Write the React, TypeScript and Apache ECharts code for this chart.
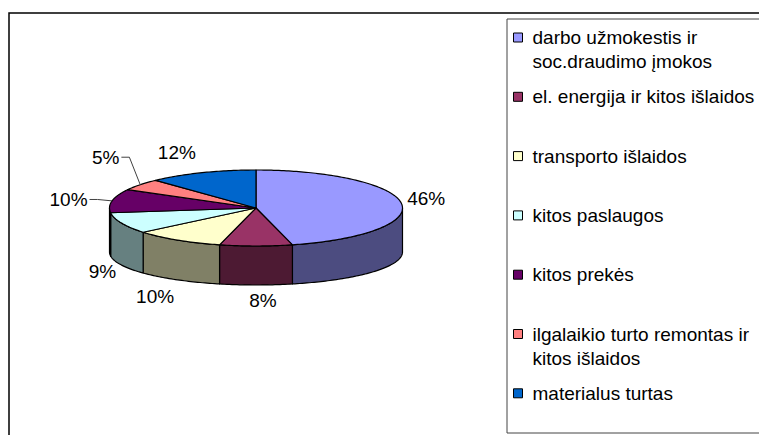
import React, { useEffect, useRef } from "react";
import * as echarts from "echarts";

// ---- data ----
const categories = [
  "darbo užmokestis ir soc.draudimo įmokos",
  "el. energija ir kitos išlaidos",
  "transporto išlaidos",
  "kitos paslaugos",
  "kitos prekės",
  "ilgalaikio turto remontas ir kitos išlaidos",
  "materialus turtas",
];
const legendLabels = [
  "darbo užmokestis ir\nsoc.draudimo įmokos",
  "el. energija ir kitos išlaidos\n ",
  "transporto išlaidos\n ",
  "kitos paslaugos\n ",
  "kitos prekės\n ",
  "ilgalaikio turto remontas ir\nkitos išlaidos",
  "materialus turtas\n ",
];
const shares = [46, 8, 10, 9, 10, 5, 12];

// ---- styles ----
const topColors = ["#9999FF", "#993366", "#FFFFCC", "#CCFFFF", "#660066", "#FF8080", "#0066CC"];
const sideColors = ["#4C4C80", "#4D1A33", "#808066", "#668080", "#330033", "#804040", "#003366"];
// extra label nudges (layout), and whether a leader line is drawn
const labelShift = [[0, -2.5], [7, 0], [-9, 4], [-1, 0], [-19, 1.5], [-19, -18], [-16, -6]];
const labelLeader = [false, false, false, false, true, true, false];

const FONT = "'Liberation Sans', Arial, sans-serif";
const CX = 256;
const RX = 146.5;
const CY_TOP = 208;
const RY_TOP = 38;
const CY_BOT = 252;
const RY_BOT = 33;

const rad = (d: number) => (d * Math.PI) / 180;
const topPt = (a: number) => [CX + RX * Math.sin(rad(a)), CY_TOP - RY_TOP * Math.cos(rad(a))];
const botPt = (a: number) => [CX + RX * Math.sin(rad(a)), CY_BOT - RY_BOT * Math.cos(rad(a))];

const total = shares.reduce((s, v) => s + v, 0);
const ranges: number[][] = [];
{
  let acc = 0;
  shares.forEach((v) => {
    ranges.push([acc / total, (acc + v) / total]);
    acc += v;
  });
}

function arc(a0: number, a1: number, fn: (a: number) => number[]) {
  const pts: number[][] = [];
  const n = Math.max(2, Math.ceil(Math.abs(a1 - a0)));
  for (let k = 0; k <= n; k++) pts.push(fn(a0 + ((a1 - a0) * k) / n));
  return pts;
}

export default function App() {
  const ref = useRef<HTMLDivElement>(null);
  useEffect(() => {
    if (!ref.current) return;
    const chart = echarts.init(ref.current, null, { renderer: "svg" });

    const wallSeries: any = {
      type: "custom",
      name: "walls",
      coordinateSystem: "none",
      silent: true,
      z: 1,
      data: ranges,
      renderItem: (params: any, api: any) => {
        const i = params.dataIndex;
        const a0 = Math.max(api.value(0) * 360, 90);
        const a1 = Math.min(api.value(1) * 360, 270);
        if (a1 <= a0) return { type: "group", children: [] };
        const pts = arc(a0, a1, topPt).concat(arc(a1, a0, botPt));
        return {
          type: "polygon",
          shape: { points: pts },
          style: { fill: sideColors[i], stroke: "#000", lineWidth: 1.2, lineJoin: "round" },
        };
      },
    };

    const topSeries: any = {
      type: "custom",
      name: "tops",
      coordinateSystem: "none",
      silent: true,
      z: 2,
      data: ranges,
      renderItem: (params: any, api: any) => {
        const i = params.dataIndex;
        const s0 = api.value(0);
        const s1 = api.value(1);
        const a0 = s0 * 360;
        const a1 = s1 * 360;
        const pts = [[CX, CY_TOP]].concat(arc(a0, a1, topPt));
        const mid = (a0 + a1) / 2;
        const sx = Math.sin(rad(mid));
        const cy = -Math.cos(rad(mid));
        const front = Math.cos(rad(mid)) < 0;
        const base = front ? botPt(mid) : topPt(mid);
        const txt = Math.round((s1 - s0) * 100) + "%";
        const w = (txt.length - 1) * 10.57 + 16.9;
        const lx = base[0] + sx * (6 + w / 2) + labelShift[i][0];
        const ly = base[1] + cy * (6 + 9.5) + labelShift[i][1];
        const children: any[] = [
          {
            type: "polygon",
            shape: { points: pts },
            style: { fill: topColors[i], stroke: "#000", lineWidth: 1.2, lineJoin: "round" },
          },
          {
            type: "text",
            x: lx,
            y: ly,
            style: {
              text: txt,
              fill: "#000",
              font: `19px ${FONT}`,
              align: "center",
              verticalAlign: "middle",
            },
          },
        ];
        if (labelLeader[i]) {
          const ex = lx + w / 2 + 2;
          children.push({
            type: "polyline",
            shape: { points: [[ex, ly], [ex + 8, ly], base] },
            style: { stroke: "#404040", lineWidth: 1, fill: null },
          });
        }
        return { type: "group", children };
      },
    };

    const legendProvider: any = {
      type: "pie",
      name: "legend",
      center: [-200, -200],
      radius: [0, 1],
      silent: true,
      label: { show: false },
      labelLine: { show: false },
      data: categories.map((n, i) => ({ name: n, value: shares[i], itemStyle: { color: topColors[i] } })),
    };

    chart.setOption({
      animation: false,
      backgroundColor: "#fff",
      legend: {
        orient: "vertical",
        left: 513,
        top: 25,
        height: 430,
        padding: 0,
        itemGap: 10.3,
        itemWidth: 14,
        itemHeight: 48,
        selectedMode: false,
        icon: "path://M0,0M14,48M0,7.5h9v9h-9z",
        itemStyle: { borderColor: "#000", borderWidth: 1 },
        data: categories,
        formatter: (name: string) => legendLabels[categories.indexOf(name)],
        textStyle: { fontSize: 19, fontFamily: FONT, color: "#000", lineHeight: 24 },
      },
      graphic: [
        {
          type: "rect",
          shape: { x: 9, y: 13, width: 800, height: 500 },
          style: { fill: "none", stroke: "#000", lineWidth: 1.5 },
          silent: true,
        },
        {
          type: "rect",
          shape: { x: 507, y: 19, width: 300, height: 414 },
          style: { fill: "none", stroke: "#444", lineWidth: 1 },
          silent: true,
        },
      ],
      series: [wallSeries, topSeries, legendProvider],
    });
    return () => chart.dispose();
  }, []);
  return (
    <div
      ref={ref}
      style={{ position: "absolute", left: 0, top: 0, width: 759, height: 435 }}
    />
  );
}
